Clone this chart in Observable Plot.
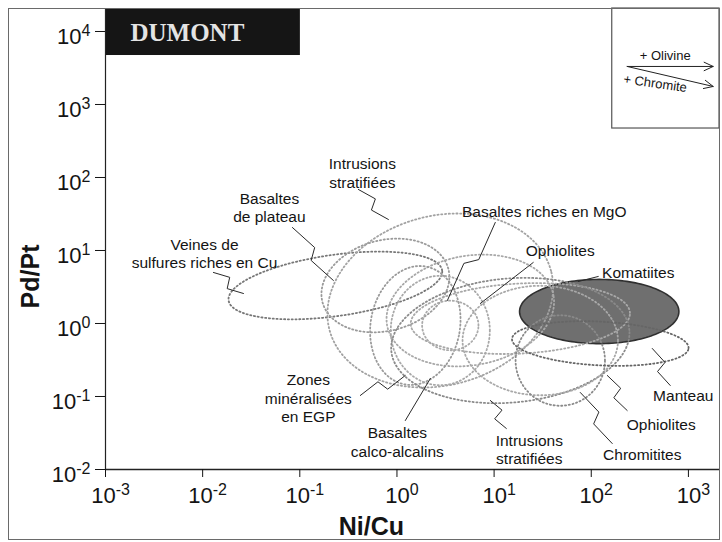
<!DOCTYPE html>
<html><head><meta charset="utf-8">
<script src="https://cdn.jsdelivr.net/npm/d3@7"></script>
<script src="https://cdn.jsdelivr.net/npm/@observablehq/plot@0.6"></script>
<style>
body{margin:0;background:#fff;}
#wrap{position:relative;width:722px;height:542px;overflow:hidden;}
#border{position:absolute;left:8px;top:8px;width:712px;height:532px;border:1px solid #6a6a6a;box-sizing:border-box;pointer-events:none;}
</style></head><body><div id="wrap"><div id="border"></div></div>
<script>
// ---- data (log10 units) ----
const xTicks = [1e-3, 1e-2, 1e-1, 1, 10, 100, 1000];
const yTicks = [1e-2, 1e-1, 1, 10, 100, 1e3, 1e4];
const title = "DUMONT";
const xLabel = "Ni/Cu";
const yLabel = "Pd/Pt";

// fields: centre (log10 Ni/Cu, log10 Pd/Pt), half-widths in decades, tilt in degrees
const fields = [
  {name: "Veines de sulfures riches en Cu", cx: -0.634, cy: 0.521, rx: 1.11, ry: 0.42, angle: 8},
  {name: "Basaltes de plateau", cx: -0.119, cy: 0.521, rx: 0.67, ry: 0.62, angle: 15},
  {name: "Intrusions stratifiées (haut)", cx: 0.446, cy: 0.315, rx: 1.18, ry: 1.16, angle: 15},
  {name: "Basaltes riches en MgO", cx: 0.755, cy: 0.178, rx: 0.87, ry: 0.75, angle: 10},
  {name: "Ophiolites (haut)", cx: 1.27, cy: 0.068, rx: 1.13, ry: 0.48, angle: 3},
  {name: "Zones minéralisées en EGP", cx: 0.189, cy: -0.027, rx: 0.46, ry: 0.82, angle: -10},
  {name: "Basaltes calco-alcalins", cx: 0.446, cy: -0.096, rx: 0.51, ry: 0.75, angle: 0},
  {name: "Petit champ central", cx: 0.549, cy: -0.027, rx: 0.29, ry: 0.34, angle: 0},
  {name: "Intrusions stratifiées (bas)", cx: 1.167, cy: -0.233, rx: 1.23, ry: 0.85, angle: 5},
  {name: "Ophiolites (bas)", cx: 1.475, cy: -0.233, rx: 0.80, ry: 0.75, angle: 0},
  {name: "Chromitites", cx: 1.681, cy: -0.507, rx: 0.46, ry: 0.62, angle: 0},
  {name: "Manteau", cx: 2.093, cy: -0.274, rx: 0.91, ry: 0.30, angle: -3}
];
const komatiites = {name: "Komatiites", cx: 2.082, cy: 0.164, rx: 0.82, ry: 0.44, angle: 0};

const labels = [
  {text: "Intrusions\nstratifiées", x: -0.356, y: 2.075},
  {text: "Basaltes\nde plateau", x: -1.313, y: 1.596},
  {text: "Veines de\nsulfures riches en Cu", x: -1.981, y: 0.966},
  {text: "Basaltes riches en MgO", x: 1.516, y: 1.548},
  {text: "Ophiolites", x: 1.681, y: 1.014},
  {text: "Komatiites", x: 2.484, y: 0.712},
  {text: "Manteau", x: 2.947, y: -0.973},
  {text: "Ophiolites", x: 2.72, y: -1.37},
  {text: "Chromitites", x: 2.525, y: -1.781},
  {text: "Intrusions\nstratifiées", x: 1.362, y: -1.719},
  {text: "Basaltes\ncalco-alcalins", x: 0.004, y: -1.616},
  {text: "Zones\nminéralisées\nen EGP", x: -0.912, y: -1.014}
];

// leader lines: label end -> field end (log10 units)
const leaders = [
  {a: [-0.397, 1.836], b: [-0.088, 1.425], zig: true},
  {a: [-1.076, 1.315], b: [-0.654, 0.589], zig: true},
  {a: [-1.889, 0.699], b: [-1.58, 0.411], zig: true},
  {a: [1.012, 1.384], b: [0.519, 0.315], zig: true},
  {a: [1.403, 0.836], b: [0.858, 0.274], zig: false},
  {a: [2.072, 0.644], b: [1.866, 0.575], zig: false},
  {a: [2.813, -0.849], b: [2.628, -0.342], zig: true},
  {a: [2.37, -1.192], b: [2.165, -0.712], zig: true},
  {a: [2.216, -1.644], b: [1.887, -0.945], zig: true},
  {a: [1.126, -1.438], b: [0.961, -1.055], zig: true},
  {a: [0.086, -1.329], b: [0.344, -0.753], zig: false},
  {a: [-0.377, -0.986], b: [0.086, -0.712], zig: true}
];

// title box and legend box (log10 units)
const titleBox = {x1: -3, x2: -0.994, y1: 3.671, y2: 4.315, tx: -2.743, ty: 3.973};
const legendBox = {x1: 2.216, x2: 3.32, y1: 2.671, y2: 4.315};
const legendArrows = [
  {text: "+ Olivine", x1: 2.37, y1: 3.521, x2: 3.255, y2: 3.521, tx: 2.761, ty: 3.671, rot: 0},
  {text: "+ Chromite", x1: 2.37, y1: 3.521, x2: 3.255, y2: 3.247, tx: 2.658, ty: 3.288, rot: 8}
];

// ---- geometry helpers ----
const K = 73 / 97.2; // pixel height of a Pd/Pt decade relative to a Ni/Cu decade
function ellipse(f, n = 160) {
  const pts = [], A = f.angle * Math.PI / 180;
  for (let i = 0; i < n; i++) {
    const t = 2 * Math.PI * i / n;
    const ex = f.rx * Math.cos(t), ey = f.ry * K * Math.sin(t);
    const vx = ex * Math.cos(A) - ey * Math.sin(A);
    const vy = ex * Math.sin(A) + ey * Math.cos(A);
    pts.push({id: f.name, x: 10 ** (f.cx + vx), y: 10 ** (f.cy + vy / K)});
  }
  return pts;
}
const fieldPts = fields.flatMap(f => ellipse(f));
const komPts = ellipse(komatiites);

const leaderPts = leaders.flatMap((l, i) => {
  const [ax, ay] = l.a, [bx, by] = l.b;
  const P = t => [ax + (bx - ax) * t, ay + (by - ay) * t];
  const pts = [[ax, ay]];
  if (l.zig) {
    const vx = bx - ax, vy = (by - ay) * K, L = Math.hypot(vx, vy);
    const nx = -vy / L, ny = vx / L, w = 0.055;
    const m1 = P(0.44), m2 = P(0.56);
    pts.push([m1[0] + nx * w, m1[1] + ny * w / K]);
    pts.push([m2[0] - nx * w, m2[1] - ny * w / K]);
  }
  pts.push([bx, by]);
  return pts.map(p => ({id: i, x: 10 ** p[0], y: 10 ** p[1]}));
});

const sans = "'Liberation Sans', Arial, Helvetica, sans-serif";
const ink = "#141414";
const fieldTones = ["#777777", "#9a9a9a", "#a2a2a2", "#a8a8a8", "#a8a8a8", "#9a9a9a", "#a8a8a8", "#aaaaaa", "#8a8a8a", "#a8a8a8", "#8a8a8a", "#666666"];

const chart = Plot.plot({
  width: 722, height: 542,
  marginLeft: 105, marginRight: 3, marginTop: 8, marginBottom: 73,
  style: {fontFamily: sans, background: "#fff", color: ink},
  x: {type: "log", domain: [1e-3, 10 ** 3.32]},
  y: {type: "log", domain: [1e-2, 10 ** 4.315]},
  marks: [
    Plot.line(komPts, {x: "x", y: "y", z: "id", curve: "linear-closed", fill: "#6f6f6f", stroke: "#303030", strokeWidth: 1.6}),
    ...fields.map((f, i) => Plot.line(fieldPts.filter(d => d.id === f.name), {
      x: "x", y: "y", curve: "linear-closed", stroke: fieldTones[i], strokeWidth: 1.8,
      strokeDasharray: "1.2 2.6", strokeLinecap: "round"
    })),
    Plot.line(leaderPts, {x: "x", y: "y", z: "id", stroke: "#2a2a2a", strokeWidth: 1}),
    Plot.text(labels, {x: d => 10 ** d.x, y: d => 10 ** d.y, text: "text", fontSize: 15.5, fill: ink, lineAnchor: "middle", lineHeight: 1.22}),
    Plot.rect([titleBox], {x1: d => 10 ** d.x1, x2: d => 10 ** d.x2, y1: d => 10 ** d.y1, y2: d => 10 ** d.y2, fill: "#151515"}),
    Plot.text([titleBox], {x: d => 10 ** d.tx, y: d => 10 ** d.ty, text: () => title, textAnchor: "start", fill: "#e4e4e4",
      fontFamily: "'Liberation Serif', 'Times New Roman', serif", fontWeight: "bold", fontSize: 25}),
    Plot.rect([legendBox], {x1: d => 10 ** d.x1, x2: d => 10 ** d.x2, y1: d => 10 ** d.y1, y2: d => 10 ** d.y2, fill: "#fff", stroke: "#555", strokeWidth: 1.2}),
    Plot.arrow(legendArrows, {x1: d => 10 ** d.x1, y1: d => 10 ** d.y1, x2: d => 10 ** d.x2, y2: d => 10 ** d.y2,
      stroke: "#222", strokeWidth: 1, headLength: 15, headAngle: 50}),
    Plot.text(legendArrows, {x: d => 10 ** d.tx, y: d => 10 ** d.ty, text: "text", rotate: d => d.rot, fontSize: 13, fill: ink}),
    Plot.ruleX([1e-3], {stroke: "#222", strokeWidth: 1.2}),
    Plot.ruleY([1e-2], {stroke: "#222", strokeWidth: 1.5}),
    Plot.axisX({ticks: xTicks, tickSize: 8, tickPadding: 10, fontSize: 22, label: null,
      tickFormat: d => String(Math.round(Math.log10(d)))}),
    Plot.axisY({ticks: yTicks, tickSize: 10, tickPadding: 5, fontSize: 22, label: null,
      tickFormat: d => String(Math.round(Math.log10(d)))}),
    Plot.text([xLabel], {x: () => 10 ** -0.263, y: () => 1e-2, dy: 57, text: d => d, fontSize: 25, fontWeight: "bold", fill: ink, lineAnchor: "middle"}),
    Plot.text([yLabel], {x: () => 1e-3, y: () => 10 ** 0.644, dx: -75, text: d => d, rotate: -90, fontSize: 25, fontWeight: "bold", fill: ink})
  ]
});

// turn "k" tick labels into 10 with a superscript exponent
const NS = "http://www.w3.org/2000/svg";
chart.querySelectorAll('g[aria-label$="tick label"] text').forEach(t => {
  const e = t.textContent;
  t.textContent = "10";
  const s = document.createElementNS(NS, "tspan");
  s.setAttribute("dy", "-8");
  s.setAttribute("font-size", "16");
  s.textContent = e;
  t.appendChild(s);
});
chart.querySelectorAll('g[aria-label="x-axis tick label"] text').forEach(t => {
  t.setAttribute("dx", "5");
});
chart.querySelectorAll('g[aria-label="y-axis tick label"] text').forEach(t => {
  t.setAttribute("dy", "0.23em");
});
document.getElementById("wrap").insertBefore(chart, document.getElementById("border"));
</script>
</body></html>
